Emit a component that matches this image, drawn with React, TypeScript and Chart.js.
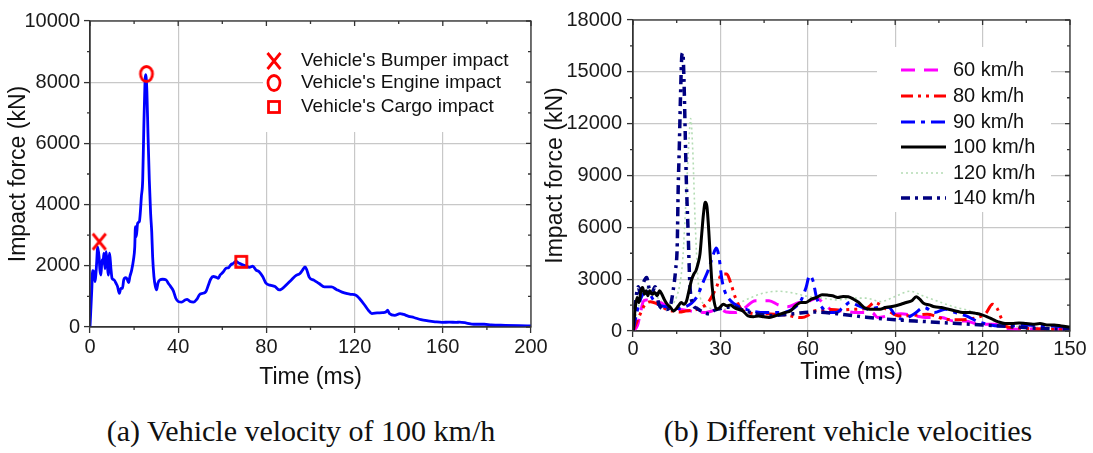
import React, { useEffect, useRef } from 'react';
import { Chart, registerables } from 'chart.js';

Chart.register(...registerables);

const SANS = '"Liberation Sans", Arial, Helvetica, sans-serif';
const SERIF = '"Liberation Serif", "Times New Roman", Times, serif';

// ---------------- Panel (a): 100 km/h ----------------
const leftXMax = 200;
const leftXStep = 40;
const leftYMax = 10000;
const leftYStep = 2000;

const force100Left: [number, number][] = [
  [0, 0], [0.8, 1200], [1.2, 1840], [1.8, 1800], [2.3, 1480], [2.7, 1750], [3.0, 2080], [3.5, 2620],
  [4.1, 2300], [4.5, 1860], [5.0, 1700], [5.4, 2190], [5.9, 2080], [6.3, 2410], [6.8, 1900], [7.3, 2460],
  [7.9, 1980], [8.3, 1700], [8.9, 2410], [9.5, 1900], [10.0, 1590], [10.9, 1540], [11.8, 1430], [12.5, 1320],
  [13.3, 1100], [14.0, 1260], [14.7, 1260], [15.3, 1540], [16.2, 1610], [16.9, 1560], [17.5, 1450], [18.1, 1650],
  [18.9, 1860], [19.7, 2190], [20.3, 2620], [20.6, 3280], [21.0, 2950], [21.6, 3390], [22.4, 3450], [22.8, 3720],
  [23.3, 4260], [23.9, 4800], [24.4, 6500], [24.9, 7900], [25.3, 8250], [25.8, 7700], [26.3, 6300], [26.9, 4800],
  [27.5, 3700], [28.0, 3100], [28.4, 2300], [29.0, 1650], [29.6, 1340], [30.2, 1210], [30.8, 1430], [31.7, 1540],
  [33.0, 1560], [34.5, 1540], [35.5, 1430], [36.6, 1320], [37.8, 1180], [38.9, 940], [40.1, 830], [41.6, 810],
  [43.1, 880], [44.1, 900], [45.4, 830], [46.9, 810], [48.4, 900], [49.6, 1050], [51.1, 1100], [52.6, 1160],
  [53.7, 1370], [54.7, 1560], [55.9, 1650], [57.1, 1630], [58.2, 1590], [59.0, 1700], [60.2, 1780], [61.7, 1920],
  [62.9, 1940], [63.8, 2030], [65.0, 2080], [66.2, 2140], [67.7, 2080], [69.2, 2030], [70.8, 1990], [72.3, 1950],
  [73.8, 1990], [75.3, 1860], [76.8, 1800], [78.3, 1650], [79.8, 1430], [81.6, 1370], [83.9, 1320], [85.9, 1210],
  [88.8, 1360], [91.2, 1530], [93.5, 1690], [95.1, 1740], [96.3, 1850], [97.5, 1960], [98.3, 1870], [99.4, 1630],
  [101.5, 1530], [103.9, 1420], [106.3, 1310], [109.5, 1310], [111.9, 1220], [114.3, 1140], [116.7, 1090], [118.2, 1070],
  [120.6, 1040], [122.2, 930], [124.6, 710], [126.2, 550], [127.8, 440], [130.2, 460], [132.6, 470], [134.2, 490],
  [135.0, 550], [135.8, 440], [138.2, 380], [140.6, 440], [142.2, 410], [144.5, 350], [146.9, 310], [150.1, 240],
  [153.3, 200], [156.5, 170], [159.7, 150], [162.9, 160], [166.1, 150], [167.6, 160], [170.8, 130], [174.0, 90],
  [178.8, 90], [182.0, 65], [188.4, 55], [194.7, 45], [200, 35],
];

const bumperImpact: [number, number] = [4.2, 2790];
const engineImpact: [number, number] = [25.6, 8270];
const cargoImpact: [number, number] = [68.6, 2130];
const leftLegendLabels = ["Vehicle's Bumper impact", "Vehicle's Engine impact", "Vehicle's Cargo impact"];

// ---------------- Panel (b): different velocities ----------------
const rightXMax = 150;
const rightXStep = 30;
const rightYMax = 18000;
const rightYStep = 3000;

const force60: [number, number][] = [
  [0, 0], [1.5, 300], [2.5, 1000], [3.5, 1700], [4.5, 1800], [6, 1750], [8, 1700], [10, 1600], [12, 1400],
  [14, 1300], [16, 1250], [18, 1200], [20, 1150], [22, 1100], [25, 1070], [28, 1200], [30, 1250], [32, 1100],
  [35, 1070], [38, 1300], [42, 1750], [46.7, 1750], [50, 1500], [53, 1400], [57, 1650], [60, 1700], [63, 1900],
  [66, 1500], [69, 1160], [72, 1160], [76, 1070], [82, 1070], [84, 780], [88, 900], [92, 1000], [96, 900],
  [101, 780], [106, 780], [110, 580], [114, 580], [119, 390], [124, 390], [128, 150], [133, 100], [138, 120],
  [143, 100], [150, 80],
];

const force80: [number, number][] = [
  [0, 0], [2, 800], [4, 1500], [6, 1700], [8, 1600], [10, 1400], [12, 1200], [14, 1150], [16, 1100], [18, 1150],
  [20, 1200], [22, 1250], [24, 1400], [26, 1700], [28.7, 2560], [30.5, 3300], [32.2, 3300], [33.5, 2800],
  [35, 2000], [37, 1300], [39, 1100], [42, 1000], [46, 1000], [50, 950], [53.5, 900], [56, 800], [58, 780],
  [60, 900], [62, 1150], [65, 1200], [68, 1250], [71, 1200], [75, 1250], [80, 1300], [83, 1650], [85, 1500],
  [87.8, 1160], [91.4, 870], [96, 900], [101, 970], [104, 850], [107, 680], [112, 650], [118, 780], [121, 1000],
  [123.4, 1550], [125, 1300], [126.5, 700], [127.7, 290], [130, 200], [135, 150], [140, 120], [145, 100], [150, 80],
];

const force90: [number, number][] = [
  [0, 0], [1.5, 1200], [3, 2000], [5, 2300], [7, 1800], [9, 1500], [12, 1400], [15, 1300], [18, 1400],
  [20, 1600], [22, 2000], [24, 2800], [26, 3600], [27.5, 4400], [28.6, 4800], [29.5, 4300], [30.5, 3000],
  [31.5, 2300], [33.5, 1750], [35.9, 1450], [38, 1300], [41, 1150], [45.5, 1070], [50.4, 1070], [54, 1200],
  [57.6, 1750], [59.4, 2520], [60.6, 3200], [61.8, 2900], [63, 1940], [64.9, 1360], [67.3, 1070], [69.7, 1070],
  [72.1, 1360], [74.5, 1650], [77.5, 1450], [80.6, 1260], [84.2, 1360], [87.8, 1360], [90.2, 870], [92.6, 680],
  [96.3, 970], [99.9, 1360], [103.5, 1070], [107.1, 1260], [110.7, 1070], [114.4, 870], [118, 580], [121.6, 390],
  [125.2, 290], [130, 300], [135, 350], [140, 300], [145, 280], [150, 200],
];

const force100: [number, number][] = [
  [0, 0], [0.8, 1360], [1.4, 1940], [2.1, 1650], [2.7, 2330], [3.3, 2520], [3.9, 2130], [4.5, 2330], [5.1, 2040],
  [5.7, 2330], [6.6, 2130], [7.5, 2230], [8.3, 2040], [9.1, 2330], [9.9, 2130], [10.7, 1840], [11.7, 1550],
  [12.9, 1360], [13.9, 1160], [14.7, 1260], [15.6, 1460], [16.5, 1650], [17.5, 1550], [18.4, 1750], [19.2, 2330],
  [20.2, 3010], [20.9, 3300], [21.6, 3490], [22.3, 3880], [23.0, 4460], [23.6, 5630], [24.2, 6790], [24.8, 7450],
  [25.4, 7180], [26.0, 5820], [26.6, 4070], [27.2, 2520], [27.8, 1750], [28.6, 1260], [29.8, 1360], [31.0, 1550],
  [32.2, 1460], [33.5, 1510], [34.7, 1360], [35.9, 1260], [37.7, 1160], [39.5, 870], [41.3, 820], [43.1, 870],
  [44.9, 820], [46.7, 780], [48.6, 870], [50.4, 970], [52.2, 1070], [54.0, 1160], [55.8, 1460], [57.6, 1650],
  [59.4, 1650], [61.2, 1840], [63.0, 1940], [64.9, 2100], [66.7, 2080], [68.5, 2040], [70.3, 1940], [72.1, 2000],
  [73.9, 1980], [75.7, 1840], [77.5, 1650], [79.3, 1360], [81.2, 1260], [83.0, 1260], [84.8, 1260], [86.6, 1360],
  [88.4, 1400], [90.2, 1460], [92.0, 1550], [93.8, 1650], [95.7, 1750], [97.2, 1980], [98.4, 1840], [99.9, 1590],
  [101.7, 1510], [103.5, 1400], [105.9, 1360], [108.3, 1260], [110.7, 1160], [113.2, 1070], [115.6, 1070],
  [118.0, 1010], [119.8, 930], [121.6, 820], [123.4, 680], [125.2, 540], [127.7, 430], [130.1, 430], [132.5, 470],
  [134.9, 430], [137.3, 390], [139.7, 430], [142.1, 350], [144.6, 350], [147.0, 290], [150, 230],
];

const force120: [number, number][] = [
  [0, 0], [2, 1500], [5, 2500], [8, 2000], [12, 1500], [15, 2000], [17, 4000], [18.3, 8000], [19.2, 11000],
  [19.8, 12300], [20.5, 10500], [21.3, 6500], [22.3, 3000], [24, 1600], [27, 1300], [30, 1200], [35, 1500],
  [40, 1900], [45, 2200], [50, 2300], [55, 2200], [60, 2000], [65, 1900], [70, 1800], [75, 1900], [80, 1900],
  [85, 1700], [90, 2000], [95, 2300], [100, 2000], [105, 1700], [110, 1400], [115, 1200], [120, 900], [125, 500],
  [130, 300], [140, 200], [150, 100],
];

const force140: [number, number][] = [
  [0, 0], [0.7, 1400], [1.8, 2560], [2.6, 2100], [3.5, 2750], [4.7, 3100], [5.5, 2500], [6.4, 2180], [7.6, 2560],
  [8.8, 1600], [10.0, 1300], [11.5, 1250], [12.7, 1400], [13.8, 2370], [14.6, 3500], [15.2, 5090], [15.5, 8160],
  [15.9, 10670], [16.3, 13560], [16.8, 16000], [17.1, 16100], [17.5, 14520], [17.9, 11630], [18.3, 8740],
  [18.9, 5850], [19.5, 2780], [20.4, 1620], [22, 1300], [24, 1100], [26, 1000], [28, 1200], [30, 1300], [34, 1400],
  [38, 1200], [42, 1000], [48, 900], [55, 1000], [62, 1100], [70, 1000], [80, 800], [90, 650], [100, 550],
  [110, 450], [120, 350], [130, 250], [140, 150], [150, 80],
];

const rightLegendLabels = ['60 km/h', '80 km/h', '90 km/h', '100 km/h', '120 km/h', '140 km/h'];
const rightSeries = [force60, force80, force90, force100, force120, force140];
const rightStyles = [
  { color: '#ff00ff', dash: [14, 9], width: 3, order: 4 },
  { color: '#ff0000', dash: [12, 5, 3, 5, 3, 5], width: 3, order: 3 },
  { color: '#0000ff', dash: [14, 6, 4, 6], width: 3, order: 2 },
  { color: '#000000', dash: [] as number[], width: 3, order: 0 },
  { color: '#b4dcb4', dash: [2, 3], width: 1.6, order: 5 },
  { color: '#000080', dash: [9, 5, 3, 5], width: 3.5, order: 1 },
];

const captionA = '(a) Vehicle velocity of 100 km/h';
const captionB = '(b) Different vehicle velocities';
const xTitle = 'Time (ms)';
const yTitle = 'Impact force (kN)';

// ---------------- helpers ----------------
function makeMarker(kind: 'x' | 'o' | 's'): HTMLCanvasElement {
  const c = document.createElement('canvas');
  c.width = 22;
  c.height = 22;
  const g = c.getContext('2d')!;
  g.strokeStyle = '#ff0000';
  g.lineWidth = 2.8;
  if (kind === 'x') {
    g.beginPath();
    g.moveTo(4.5, 3);
    g.lineTo(17.5, 19);
    g.moveTo(17.5, 3);
    g.lineTo(4.5, 19);
    g.stroke();
  } else if (kind === 'o') {
    g.beginPath();
    g.ellipse(11, 11, 6, 7.5, 0, 0, Math.PI * 2);
    g.stroke();
  } else {
    g.strokeRect(5.5, 5.5, 11, 11);
  }
  return c;
}

const toXY = (arr: [number, number][]) => arr.map(([x, y]) => ({ x, y }));

function drawFrame(chart: any, xStep: number, yStep: number) {
  const { ctx, chartArea: a } = chart;
  const xs = chart.scales.x;
  const ys = chart.scales.y;
  ctx.save();
  ctx.strokeStyle = '#333';
  ctx.lineWidth = 1.3;
  ctx.strokeRect(a.left, a.top, a.right - a.left, a.bottom - a.top);
  ctx.beginPath();
  const nx = Math.round((xs.max - xs.min) / (xStep / 2));
  for (let i = 0; i <= nx; i++) {
    const px = xs.getPixelForValue(xs.min + (i * xStep) / 2);
    const major = i % 2 === 0;
    ctx.moveTo(px, a.top);
    ctx.lineTo(px, a.top + (major ? 5 : 3));
    if (!major) {
      ctx.moveTo(px, a.bottom);
      ctx.lineTo(px, a.bottom + 3);
    }
  }
  const ny = Math.round((ys.max - ys.min) / (yStep / 2));
  for (let i = 0; i <= ny; i++) {
    const py = ys.getPixelForValue(ys.min + (i * yStep) / 2);
    const major = i % 2 === 0;
    ctx.moveTo(a.right, py);
    ctx.lineTo(a.right - (major ? 5 : 3), py);
    if (!major) {
      ctx.moveTo(a.left, py);
      ctx.lineTo(a.left - 3, py);
    }
  }
  ctx.stroke();
  ctx.restore();
}

const gridCfg = { color: '#c8c8c8', lineWidth: 1.2, drawTicks: true, tickLength: 6, tickColor: '#333', tickWidth: 1.3 };
const borderCfg = { color: '#333', width: 1.3 };
const tickFont = { family: SANS, size: 20 };
const titleFont = { family: SANS, size: 23 };

function makeScales(
  xMax: number, xStep: number, yMax: number, yStep: number,
  yAxisWidth: number, xAxisHeight: number, yTitlePad: number, xTitlePad: number, xTickPad: number, yTickPad: number,
) {
  return {
    x: {
      type: 'linear' as const,
      min: 0,
      max: xMax,
      ticks: { stepSize: xStep, color: '#1a1a1a', font: tickFont, padding: xTickPad, maxRotation: 0, autoSkip: false, callback: (v: any) => String(v) },
      grid: gridCfg,
      border: borderCfg,
      title: { display: true, text: xTitle, color: '#111', font: titleFont, padding: { top: 0, bottom: xTitlePad } },
      afterFit: (s: any) => { s.height = xAxisHeight; },
    },
    y: {
      type: 'linear' as const,
      min: 0,
      max: yMax,
      ticks: { stepSize: yStep, color: '#1a1a1a', font: tickFont, padding: yTickPad, autoSkip: false, callback: (v: any) => String(v) },
      grid: gridCfg,
      border: borderCfg,
      title: { display: true, text: yTitle, color: '#111', font: titleFont, padding: { top: yTitlePad, bottom: 0 } },
      afterFit: (s: any) => { s.width = yAxisWidth; },
    },
  };
}

export default function App() {
  const leftRef = useRef<HTMLCanvasElement>(null);
  const rightRef = useRef<HTMLCanvasElement>(null);

  useEffect(() => {
    const markers = [makeMarker('x'), makeMarker('o'), makeMarker('s')];

    const leftPlugin = {
      id: 'leftDecor',
      beforeDatasetsDraw(chart: any) {
        const { ctx } = chart;
        ctx.save();
        ctx.fillStyle = '#ffffff';
        ctx.fillRect(263, 22, 265, 110);
        ctx.restore();
      },
      afterDraw(chart: any) {
        const { ctx } = chart;
        drawFrame(chart, leftXStep, leftYStep);
        ctx.save();
        ctx.font = `19px ${SANS}`;
        ctx.fillStyle = '#111';
        ctx.textBaseline = 'middle';
        ctx.textAlign = 'left';
        const rows = [61, 83, 107];
        rows.forEach((y, i) => {
          ctx.drawImage(markers[i], 274 - 11, y - 11);
          ctx.fillText(leftLegendLabels[i], 301, y);
        });
        ctx.restore();
      },
    };

    const left = new Chart(leftRef.current!, {
      type: 'line',
      data: {
        datasets: [
          { data: toXY(force100Left), borderColor: '#0000ff', borderWidth: 2.8, pointRadius: 0, cubicInterpolationMode: 'monotone', order: 3 } as any,
          { type: 'scatter', data: toXY([bumperImpact]), pointStyle: markers[0], pointRadius: 10, showLine: false, order: 0 } as any,
          { type: 'scatter', data: toXY([engineImpact]), pointStyle: markers[1], pointRadius: 10, showLine: false, order: 0 } as any,
          { type: 'scatter', data: toXY([cargoImpact]), pointStyle: markers[2], pointRadius: 10, showLine: false, order: 0 } as any,
        ],
      },
      options: {
        responsive: false,
        animation: false,
        events: [],
        layout: { padding: { top: 21, right: 29, bottom: 0, left: 0 } },
        plugins: { legend: { display: false }, tooltip: { enabled: false } },
        scales: makeScales(leftXMax, leftXStep, leftYMax, leftYStep, 90, 73, 5, 9, 2, 4) as any,
      },
      plugins: [leftPlugin],
    });

    const rightPlugin = {
      id: 'rightDecor',
      beforeDatasetsDraw(chart: any) {
        const { ctx } = chart;
        ctx.save();
        ctx.fillStyle = '#ffffff';
        ctx.fillRect(341, 47, 174, 165);
        ctx.restore();
      },
      afterDraw(chart: any) {
        const { ctx } = chart;
        drawFrame(chart, rightXStep, rightYStep);
        ctx.save();
        ctx.font = `20px ${SANS}`;
        ctx.textBaseline = 'middle';
        ctx.textAlign = 'left';
        const rows = [70, 96, 122, 147, 173, 198];
        rows.forEach((y, i) => {
          const st = rightStyles[i];
          ctx.strokeStyle = st.color;
          ctx.lineWidth = st.width;
          ctx.setLineDash(st.dash);
          ctx.beginPath();
          ctx.moveTo(365, y);
          ctx.lineTo(410, y);
          ctx.stroke();
          ctx.setLineDash([]);
          ctx.fillStyle = '#111';
          ctx.fillText(rightLegendLabels[i], 417, y);
        });
        ctx.restore();
      },
    };

    const right = new Chart(rightRef.current!, {
      type: 'line',
      data: {
        datasets: rightSeries.map((s, i) => ({
          label: rightLegendLabels[i],
          data: toXY(s),
          borderColor: rightStyles[i].color,
          borderDash: rightStyles[i].dash,
          borderWidth: rightStyles[i].width,
          pointRadius: 0,
          cubicInterpolationMode: 'monotone',
          order: rightStyles[i].order,
        })) as any,
      },
      options: {
        responsive: false,
        animation: false,
        events: [],
        layout: { padding: { top: 20, right: 23, bottom: 0, left: 0 } },
        plugins: { legend: { display: false }, tooltip: { enabled: false } },
        scales: makeScales(rightXMax, rightXStep, rightYMax, rightYStep, 97, 69, 6, 14, 0, 5) as any,
      },
      plugins: [rightPlugin],
    });

    return () => {
      left.destroy();
      right.destroy();
    };
  }, []);

  const captionStyle: React.CSSProperties = {
    position: 'absolute',
    top: 416,
    textAlign: 'center',
    fontFamily: SERIF,
    fontSize: 30,
    lineHeight: '30px',
    color: '#111',
    whiteSpace: 'nowrap',
  };

  return (
    <div style={{ position: 'fixed', left: 0, top: 0, width: 1093, height: 453, background: '#ffffff', overflow: 'hidden' }}>
      <canvas ref={leftRef} width={560} height={400} style={{ position: 'absolute', left: 0, top: 0, width: 560, height: 400 }} />
      <canvas ref={rightRef} width={557} height={400} style={{ position: 'absolute', left: 536, top: 0, width: 557, height: 400 }} />
      <div style={{ ...captionStyle, left: 0, width: 602 }}>{captionA}</div>
      <div style={{ ...captionStyle, left: 603, width: 490 }}>{captionB}</div>
    </div>
  );
}
